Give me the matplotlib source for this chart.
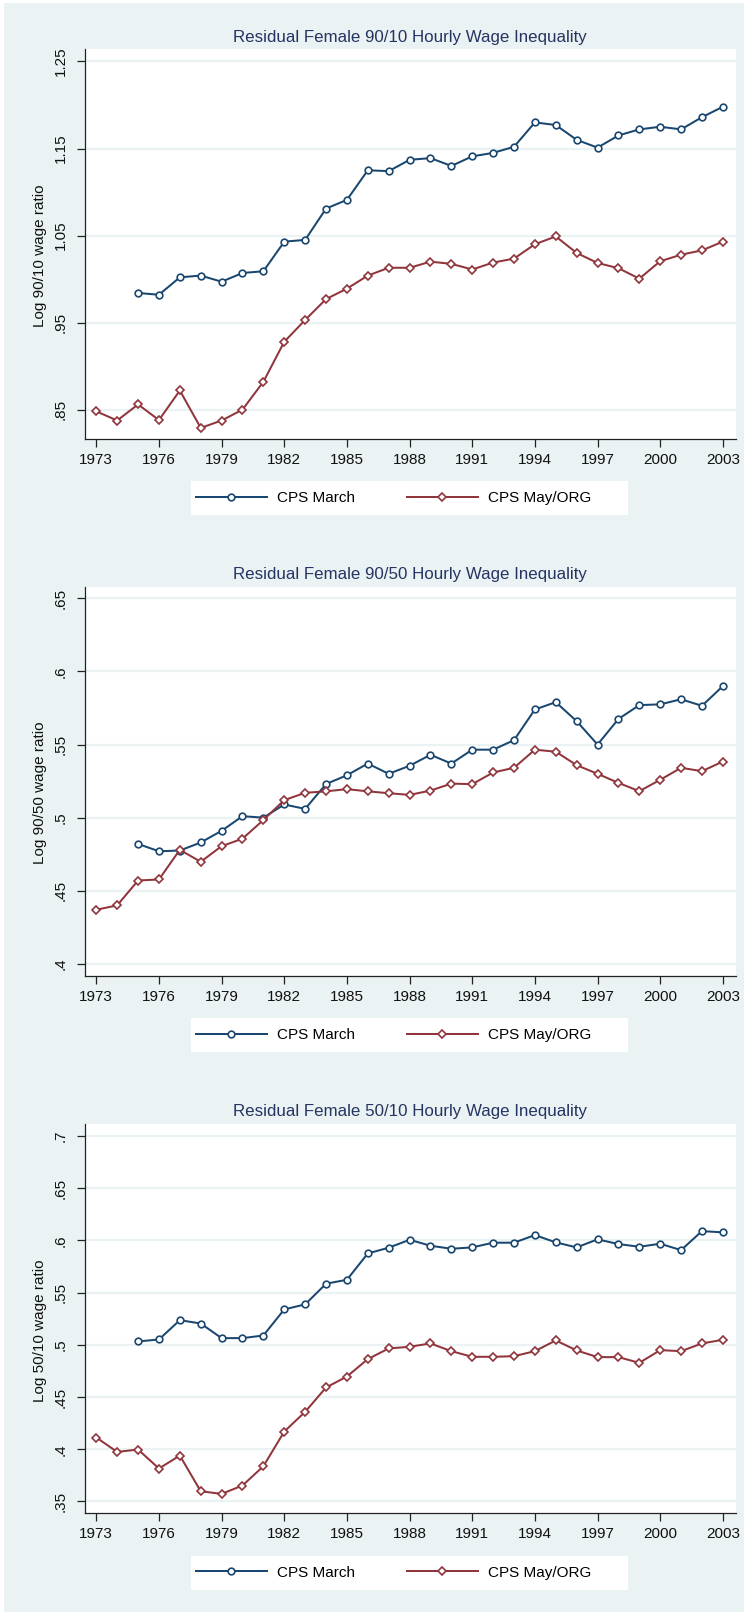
import matplotlib
matplotlib.use("Agg")
import matplotlib.pyplot as plt
from matplotlib import font_manager as fm
from matplotlib.patches import Rectangle

# ---------------- data ----------------
years_march = [1975, 1976, 1977, 1978, 1979, 1980, 1981, 1982, 1983, 1984,
               1985, 1986, 1987, 1988, 1989, 1990, 1991, 1992, 1993, 1994,
               1995, 1996, 1997, 1998, 1999, 2000, 2001, 2002, 2003]
years_org = [1973, 1974] + years_march

p1_march = [0.984, 0.982, 1.002, 1.004, 0.997, 1.007, 1.009, 1.043, 1.045, 1.081,
            1.091, 1.125, 1.124, 1.137, 1.139, 1.130, 1.141, 1.145, 1.152, 1.180,
            1.177, 1.160, 1.151, 1.165, 1.172, 1.175, 1.172, 1.186, 1.198]
p1_org = [0.848, 0.8375, 0.856, 0.838, 0.872, 0.829, 0.8375, 0.850, 0.882, 0.928,
          0.953, 0.977, 0.989, 1.004, 1.013, 1.013, 1.020, 1.0175, 1.011, 1.019,
          1.0235, 1.040, 1.049, 1.030, 1.0185, 1.0125, 1.0005, 1.0205, 1.028, 1.033, 1.043]

p2_march = [0.482, 0.477, 0.4775, 0.483, 0.491, 0.501, 0.500, 0.509, 0.506, 0.523,
            0.529, 0.537, 0.530, 0.5355, 0.543, 0.537, 0.5465, 0.5465, 0.553, 0.574,
            0.579, 0.566, 0.550, 0.5675, 0.577, 0.5775, 0.581, 0.5765, 0.590]
p2_org = [0.437, 0.440, 0.457, 0.4577, 0.478, 0.4698, 0.4805, 0.4856, 0.4984, 0.512,
          0.517, 0.518, 0.5195, 0.518, 0.5167, 0.5156, 0.5185, 0.5233, 0.5229, 0.5309,
          0.5341, 0.5465, 0.5451, 0.5359, 0.530, 0.5238, 0.5181, 0.5259, 0.5341, 0.5318, 0.5384]

p3_march = [0.5032, 0.5051, 0.5236, 0.5204, 0.5064, 0.5064, 0.5089, 0.5339, 0.5387, 0.5585,
            0.5623, 0.5875, 0.593, 0.6006, 0.5949, 0.592, 0.5933, 0.5978, 0.5978, 0.6051,
            0.5981, 0.5933, 0.601, 0.5965, 0.5939, 0.5968, 0.5907, 0.6089, 0.6077]
p3_org = [0.4112, 0.3974, 0.3997, 0.3815, 0.3939, 0.3597, 0.3572, 0.3652, 0.3837, 0.4169,
          0.4358, 0.4591, 0.4696, 0.4863, 0.4965, 0.4981, 0.5013, 0.4939, 0.4885, 0.4885,
          0.4891, 0.4939, 0.5042, 0.4946, 0.4882, 0.4882, 0.4827, 0.4949, 0.4939, 0.5013, 0.5048]

titles = ["Residual Female 90/10 Hourly Wage Inequality",
          "Residual Female 90/50 Hourly Wage Inequality",
          "Residual Female 50/10 Hourly Wage Inequality"]
ylabels = ["Log 90/10 wage ratio", "Log 90/50 wage ratio", "Log 50/10 wage ratio"]
yticks = [[0.85, 0.95, 1.05, 1.15, 1.25],
          [0.4, 0.45, 0.5, 0.55, 0.6, 0.65],
          [0.35, 0.4, 0.45, 0.5, 0.55, 0.6, 0.65, 0.7]]
yticklabels = [[".85", ".95", "1.05", "1.15", "1.25"],
               [".4", ".45", ".5", ".55", ".6", ".65"],
               [".35", ".4", ".45", ".5", ".55", ".6", ".65", ".7"]]
ylims = [(0.8166, 1.264), (0.3916, 0.658), (0.3385, 0.7115)]
xticks = [1973, 1976, 1979, 1982, 1985, 1988, 1991, 1994, 1997, 2000, 2003]
series_labels = ["CPS March", "CPS May/ORG"]

# ---------------- style ----------------
def has_font(name):
    try:
        fm.findfont(fm.FontProperties(family=name), fallback_to_default=False)
        return True
    except Exception:
        return False

if has_font("Liberation Sans Narrow"):
    FONT = "Liberation Sans Narrow"
    FS = 13.0
    TFS = 14.2
else:
    FONT = "Liberation Sans"
    FS = 11.0
    TFS = 12.2

plt.rcParams["font.family"] = [FONT, "DejaVu Sans"]
FS_PX = FS * 100 / 72.0

BG = "#EAF2F3"
NAVY = "#1A476F"
MAROON = "#90353B"
TITLE_C = "#253462"
W, H = 755, 1612

fig = plt.figure(figsize=(W / 100, H / 100), dpi=100, facecolor="white")
bg = Rectangle((4 / W, 0), (744 - 4) / W, (H - 3) / H,
               transform=fig.transFigure, facecolor=BG, edgecolor="none",
               zorder=-10)
fig.add_artist(bg)

ax_top_px = [49.3, 586.7, 1124.0]
ax_h_px = 389.4
ax_left_px, ax_w_px = 84.6, 651.0

datasets = [(p1_march, p1_org), (p2_march, p2_org), (p3_march, p3_org)]

for i in range(3):
    bottom = 1 - (ax_top_px[i] + ax_h_px) / H
    ax = fig.add_axes([ax_left_px / W, bottom, ax_w_px / W, ax_h_px / H])
    ax.set_facecolor("white")
    march, org = datasets[i]

    ax.plot(years_march, march, color=NAVY, lw=1.45, marker="o", ms=4.8,
            mfc="white", mec=NAVY, mew=1.2, label=series_labels[0], zorder=3)
    ax.plot(years_org, org, color=MAROON, lw=1.45, marker="D", ms=4.2,
            mfc="white", mec=MAROON, mew=1.2, label=series_labels[1], zorder=3)

    ax.set_xlim(1972.44, 2003.61)
    ax.set_ylim(*ylims[i])
    ax.set_xticks(xticks)
    ax.set_xticklabels([str(x) for x in xticks], fontsize=FS, color="#111111")
    ax.set_yticks(yticks[i])
    ax.set_yticklabels(yticklabels[i], fontsize=FS, color="#111111",
                       rotation=90, va="center")
    ax.tick_params(axis="x", length=6, width=0.9, color="#222222", pad=4)
    ax.tick_params(axis="y", length=6, width=0.9, color="#222222", pad=6)
    ax.grid(axis="y", color=BG, lw=1.6, zorder=1)
    ax.grid(axis="x", visible=False)
    ax.set_axisbelow(True)
    for s in ["top", "right"]:
        ax.spines[s].set_visible(False)
    for s in ["left", "bottom"]:
        ax.spines[s].set_color("#222222")
        ax.spines[s].set_linewidth(0.9)

    ax.set_title(titles[i], fontsize=TFS, color=TITLE_C, pad=5.5)
    ax.set_ylabel(ylabels[i], fontsize=FS, color="#111111")
    ax.yaxis.label.set_va("center")
    ax.yaxis.set_label_coords(-0.068, 0.47)

    # legend box
    ax.add_patch(Rectangle((0.1634, -0.196), 0.8349 - 0.1634, 0.196 - 0.1086,
                           transform=ax.transAxes, facecolor="white",
                           edgecolor="none", clip_on=False, zorder=0))
    ax.legend(loc="center left", bbox_to_anchor=(0.1707, -0.1523), ncol=2,
              frameon=False, fontsize=FS, handlelength=71 / FS_PX,
              handletextpad=10 / FS_PX, columnspacing=52 / FS_PX,
              borderpad=0, borderaxespad=0)

fig.savefig("out.png", dpi=100, facecolor="white")
